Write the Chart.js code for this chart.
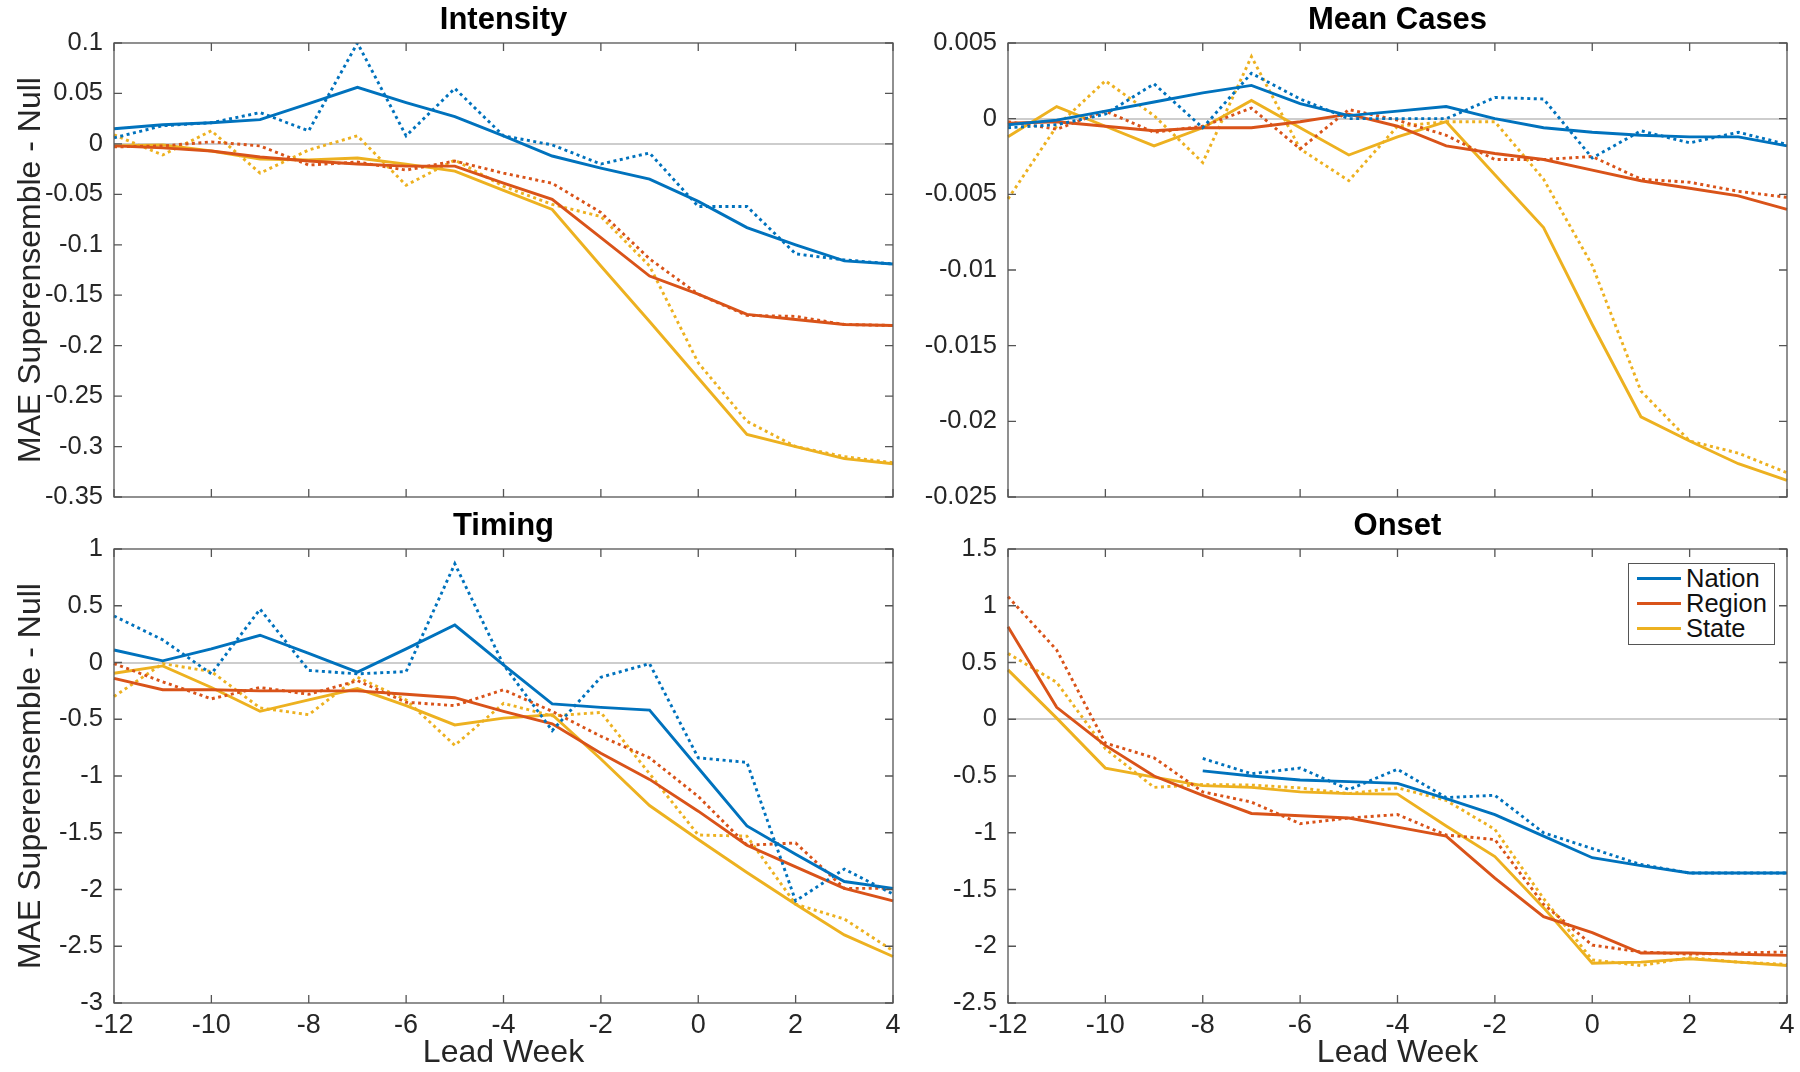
<!DOCTYPE html>
<html>
<head>
<meta charset="utf-8">
<title>MAE Superensemble - Null</title>
<script src="https://cdn.jsdelivr.net/npm/chart.js@4.4.1/dist/chart.umd.min.js"></script>
<style>
    body { margin: 0; background: #fff; width: 1800px; height: 1072px; position: relative; overflow: hidden;
           font-family: "Liberation Sans", Arial, Helvetica, sans-serif; }
    .panel { position: absolute; }
    #legend { position: absolute; left: 1628px; top: 563px; width: 147px; height: 82px; background: #fff;
              border: 1.3px solid #555; box-sizing: border-box; padding-top: 2px; }
    .row { display: flex; align-items: center; height: 25px; color: #111; font-size: 25.5px; }
    .row span { display: inline-block; width: 44px; height: 3px; margin: 0 5px 0 8px; }
</style>
</head>
<body>
<div class="panel" style="left:0;top:0"><canvas id="intensity" width="900" height="506"></canvas></div>
<div class="panel" style="left:900px;top:0"><canvas id="meanCases" width="900" height="506"></canvas></div>
<div class="panel" style="left:0;top:506px"><canvas id="timing" width="900" height="566"></canvas></div>
<div class="panel" style="left:900px;top:506px"><canvas id="onset" width="900" height="566"></canvas></div>
<div id="legend"></div>

<script>
const leadWeeks = [-12, -11, -10, -9, -8, -7, -6, -5, -4, -3, -2, -1, 0, 1, 2, 3, 4];
const seriesNames = ['Nation', 'Region', 'State'];
const seriesColors = ['#0072BD', '#D95319', '#EDB120'];

// Intensity
const intensityNation = [0.015, 0.019, 0.021, 0.024, 0.040, 0.056, 0.041, 0.027, 0.008, -0.012, -0.024, -0.035, -0.057, -0.083, -0.100, -0.116, -0.119];
const intensityNationDot = [0.006, 0.018, 0.021, 0.031, 0.013, 0.100, 0.008, 0.055, 0.008, -0.001, -0.020, -0.009, -0.062, -0.062, -0.109, -0.115, -0.119];
const intensityRegion = [-0.002, -0.004, -0.007, -0.013, -0.017, -0.020, -0.022, -0.022, -0.039, -0.055, -0.093, -0.131, -0.149, -0.169, -0.174, -0.179, -0.180];
const intensityRegionDot = [-0.003, -0.002, 0.002, -0.002, -0.021, -0.018, -0.026, -0.017, -0.029, -0.039, -0.068, -0.114, -0.149, -0.170, -0.171, -0.179, -0.180];
const intensityState = [-0.002, -0.001, -0.007, -0.015, -0.016, -0.014, -0.020, -0.027, -0.046, -0.065, -0.121, -0.176, -0.232, -0.288, -0.300, -0.312, -0.317];
const intensityStateDot = [0.009, -0.011, 0.013, -0.029, -0.006, 0.008, -0.041, -0.016, -0.042, -0.060, -0.072, -0.121, -0.217, -0.275, -0.300, -0.310, -0.316];

// Mean Cases
const meanNation = [-0.0004, -0.0001, 0.0005, 0.0011, 0.0017, 0.0022, 0.0010, 0.0002, 0.0005, 0.0008, 0.0000, -0.0006, -0.0009, -0.0011, -0.0012, -0.0012, -0.0018];
const meanNationDot = [-0.0006, -0.0004, 0.0003, 0.0023, -0.0006, 0.0030, 0.0013, 0.0000, 0.0000, 0.0000, 0.0014, 0.0013, -0.0026, -0.0008, -0.0016, -0.0009, -0.0017];
const meanRegion = [-0.0003, -0.0002, -0.0005, -0.0008, -0.0006, -0.0006, -0.0002, 0.0003, -0.0005, -0.0018, -0.0023, -0.0027, -0.0034, -0.0041, -0.0046, -0.0051, -0.0060];
const meanRegionDot = [-0.0002, -0.0007, 0.0005, -0.0009, -0.0005, 0.0007, -0.0020, 0.0006, -0.0001, -0.0011, -0.0027, -0.0027, -0.0025, -0.0040, -0.0042, -0.0048, -0.0052];
const meanState = [-0.0012, 0.0008, -0.0005, -0.0018, -0.0006, 0.0012, -0.0006, -0.0024, -0.0012, -0.0002, -0.0037, -0.0072, -0.0136, -0.0197, -0.0213, -0.0228, -0.0239];
const meanStateDot = [-0.0053, -0.0005, 0.0025, 0.0002, -0.0029, 0.0041, -0.0020, -0.0041, -0.0005, -0.0002, -0.0002, -0.0040, -0.0097, -0.0180, -0.0213, -0.0221, -0.0234];

// Timing
const timingNation = [0.11, 0.015, 0.12, 0.24, 0.08, -0.085, 0.12, 0.33, -0.02, -0.365, -0.395, -0.42, -0.93, -1.44, -1.69, -1.93, -1.99];
const timingNationDot = [0.41, 0.20, -0.10, 0.47, -0.07, -0.10, -0.08, 0.87, -0.02, -0.60, -0.13, -0.01, -0.84, -0.88, -2.10, -1.82, -2.04];
const timingRegion = [-0.14, -0.24, -0.24, -0.25, -0.25, -0.25, -0.28, -0.31, -0.43, -0.54, -0.80, -1.03, -1.31, -1.61, -1.80, -1.99, -2.10];
const timingRegionDot = [-0.01, -0.17, -0.32, -0.22, -0.28, -0.16, -0.35, -0.38, -0.24, -0.43, -0.65, -0.84, -1.18, -1.61, -1.59, -1.99, -1.99];
const timingState = [-0.095, -0.03, -0.22, -0.43, -0.33, -0.23, -0.38, -0.55, -0.49, -0.46, -0.85, -1.26, -1.56, -1.85, -2.13, -2.40, -2.59];
const timingStateDot = [-0.30, -0.01, -0.08, -0.40, -0.46, -0.13, -0.33, -0.73, -0.36, -0.47, -0.44, -0.98, -1.52, -1.53, -2.13, -2.26, -2.54];

// Onset (nation starts at week -8)
const onsetNation = [null, null, null, null, -0.455, -0.50, -0.535, -0.55, -0.565, -0.70, -0.84, -1.03, -1.22, -1.29, -1.355, -1.355, -1.355];
const onsetNationDot = [null, null, null, null, -0.345, -0.48, -0.43, -0.62, -0.44, -0.69, -0.67, -1.00, -1.14, -1.28, -1.355, -1.355, -1.355];
const onsetRegion = [0.815, 0.105, -0.23, -0.50, -0.67, -0.83, -0.85, -0.87, -0.95, -1.03, -1.40, -1.74, -1.88, -2.06, -2.06, -2.07, -2.08];
const onsetRegionDot = [1.08, 0.61, -0.21, -0.34, -0.64, -0.73, -0.92, -0.87, -0.84, -1.02, -1.06, -1.63, -1.99, -2.05, -2.07, -2.06, -2.05];
const onsetState = [0.435, 0.01, -0.43, -0.51, -0.585, -0.60, -0.64, -0.655, -0.66, -0.94, -1.21, -1.66, -2.15, -2.14, -2.11, -2.14, -2.17];
const onsetStateDot = [0.58, 0.325, -0.26, -0.60, -0.575, -0.58, -0.605, -0.655, -0.605, -0.715, -0.97, -1.58, -2.12, -2.17, -2.10, -2.14, -2.16];

const FONT = '"Liberation Sans", Arial, Helvetica, sans-serif';
Chart.defaults.font.family = FONT;
Chart.defaults.color = '#262626';

// matlab-ish box with inward ticks on all four sides
const boxTicks = {
    id: 'boxTicks',
    afterDatasetsDraw(chart) {
        const { ctx, chartArea: a, scales: { x, y } } = chart;
        ctx.save();
        ctx.strokeStyle = '#555';
        ctx.lineWidth = 1.3;
        ctx.beginPath();
        x.ticks.forEach(t => {
            const px = x.getPixelForValue(t.value);
            ctx.moveTo(px, a.bottom); ctx.lineTo(px, a.bottom - 8);
            ctx.moveTo(px, a.top); ctx.lineTo(px, a.top + 8);
        });
        y.ticks.forEach(t => {
            const py = y.getPixelForValue(t.value);
            ctx.moveTo(a.left, py); ctx.lineTo(a.left + 8, py);
            ctx.moveTo(a.right, py); ctx.lineTo(a.right - 8, py);
        });
        ctx.stroke();
        ctx.strokeRect(a.left, a.top, a.right - a.left, a.bottom - a.top);
        ctx.restore();
    }
};

function makeSets(solid, dotted) {
    const sets = [];
    solid.forEach((vals, i) => {
        sets.push({
            label: seriesNames[i],
            data: leadWeeks.map((w, k) => ({ x: w, y: vals[k] })),
            borderColor: seriesColors[i], borderWidth: 2.9
        });
        sets.push({
            label: seriesNames[i] + ' (dotted)',
            data: leadWeeks.map((w, k) => ({ x: w, y: dotted[i][k] })),
            borderColor: seriesColors[i], borderWidth: 2.9, borderDash: [3, 3.5]
        });
    });
    return sets;
}

function drawPanel(id, title, sets, yMin, yMax, yStep, opts) {
    new Chart(document.getElementById(id), {
        type: 'line',
        data: { datasets: sets },
        options: {
            responsive: false,
            animation: false,
            elements: { point: { radius: 0 }, line: { tension: 0 } },
            layout: { padding: { left: 0, right: opts.padRight, top: 0, bottom: 0 } },
            plugins: { legend: { display: false }, tooltip: { enabled: false } },
            scales: {
                head: {
                    type: 'linear', position: 'top',
                    ticks: { display: false }, grid: { display: false }, border: { display: false },
                    title: { display: true, text: title, color: '#000',
                             font: { size: 31, weight: 'bold' }, padding: { top: 2, bottom: 0 } },
                    afterFit: s => { s.height = 43; s.paddingLeft = 0; s.paddingRight = 0; }
                },
                x: {
                    type: 'linear', min: -12, max: 4,
                    ticks: { display: opts.showX, stepSize: 2, font: { size: 27 }, padding: 6, maxRotation: 0 },
                    grid: { display: false, drawTicks: false },
                    border: { display: false },
                    title: { display: opts.showX, text: 'Lead Week', font: { size: 32 }, padding: { top: 0, bottom: 0 } },
                    afterFit: s => { s.height = opts.xHeight; s.paddingLeft = 0; s.paddingRight = 0; }
                },
                y: {
                    min: yMin, max: yMax,
                    ticks: { stepSize: yStep, font: { size: 25.5 }, padding: 11,
                             callback: v => String(parseFloat(v.toFixed(4))) },
                    grid: { drawTicks: false, lineWidth: 2,
                            color: c => (c.tick && Math.abs(c.tick.value) < 1e-9) ? '#cdcdcd' : 'rgba(0,0,0,0)' },
                    border: { display: false },
                    title: { display: opts.yTitle, text: 'MAE Superensemble - Null', font: { size: 32 }, padding: { top: 12, bottom: 0 } },
                    afterFit: s => { s.width = opts.yWidth; s.paddingTop = 0; s.paddingBottom = 0; }
                }
            }
        },
        plugins: [boxTicks]
    });
}

const leftTop = { padRight: 7, yWidth: 114, xHeight: 9, showX: false, yTitle: true };
const rightTop = { padRight: 13, yWidth: 108, xHeight: 9, showX: false, yTitle: false };
const leftBottom = { padRight: 7, yWidth: 114, xHeight: 69, showX: true, yTitle: true };
const rightBottom = { padRight: 13, yWidth: 108, xHeight: 69, showX: true, yTitle: false };

drawPanel('intensity', 'Intensity',
    makeSets([intensityNation, intensityRegion, intensityState], [intensityNationDot, intensityRegionDot, intensityStateDot]),
    -0.35, 0.1, 0.05, leftTop);
drawPanel('meanCases', 'Mean Cases',
    makeSets([meanNation, meanRegion, meanState], [meanNationDot, meanRegionDot, meanStateDot]),
    -0.025, 0.005, 0.005, rightTop);
drawPanel('timing', 'Timing',
    makeSets([timingNation, timingRegion, timingState], [timingNationDot, timingRegionDot, timingStateDot]),
    -3, 1, 0.5, leftBottom);
drawPanel('onset', 'Onset',
    makeSets([onsetNation, onsetRegion, onsetState], [onsetNationDot, onsetRegionDot, onsetStateDot]),
    -2.5, 1.5, 0.5, rightBottom);

// legend for the onset panel, solid lines only
const legend = document.getElementById('legend');
seriesNames.forEach((name, i) => {
    const row = document.createElement('div');
    row.className = 'row';
    row.innerHTML = `<span style="background:${seriesColors[i]}"></span>${name}`;
    legend.appendChild(row);
});
</script>
</body>
</html>
